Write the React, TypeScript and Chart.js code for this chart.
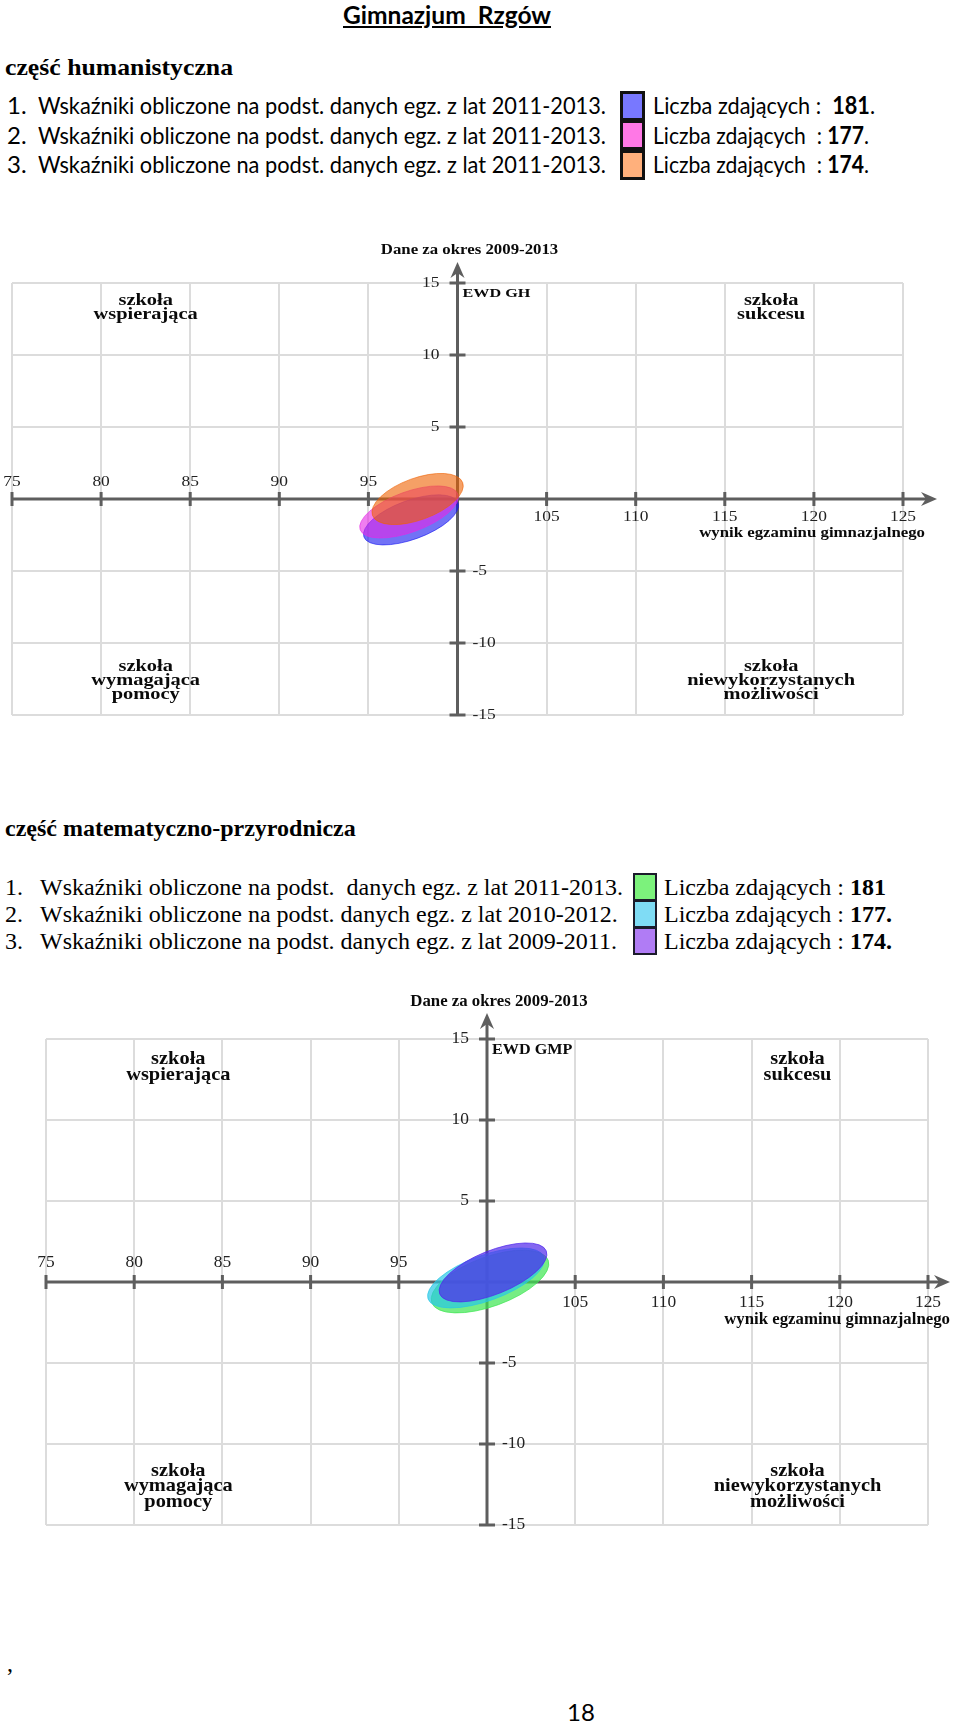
import React, { useEffect, useRef } from 'react';
import { Chart, registerables } from 'chart.js';

Chart.register(...registerables);

// ---------------- data ----------------
const xTickValues = [75, 80, 85, 90, 95, 105, 110, 115, 120, 125];
const yTickValues = [15, 10, 5, -5, -10, -15];

// część humanistyczna (EWD GH) – blue, pink, orange
const ghSeries = ['2011-2013 (181)', '2011-2013 (177)', '2011-2013 (174)'];
const ghCenterX = [97.39, 97.28, 97.76];
const ghCenterY = [-1.45, -0.9, 0.0];
const ghMajorDX = [2.64, 2.74, 2.53];
const ghMajorDY = [1.19, 1.24, 1.14];
const ghMinor = [1.35, 1.4, 1.45];
const ghColors = ['rgba(20,20,240,0.6)', 'rgba(230,40,230,0.6)', 'rgba(238,97,0,0.6)'];

// część matematyczno-przyrodnicza (EWD GMP) – green, cyan, purple
const gmpSeries = ['2011-2013 (181)', '2010-2012 (177)', '2009-2011 (174)'];
const gmpCenterX = [100.17, 99.94, 100.34];
const gmpCenterY = [0.03, 0.25, 0.59];
const gmpMajorDX = [3.3, 3.28, 3.02];
const gmpMajorDY = [1.31, 1.3, 1.33];
const gmpMinor = [1.52, 1.4, 1.34];
const gmpColors = ['rgba(60,230,80,0.7)', 'rgba(40,200,230,0.7)', 'rgba(80,38,235,0.7)'];

const quadrantLabels = [
  { x: 82.5, y: 13.75, lines: ['szkoła', 'wspierająca'] },
  { x: 117.6, y: 13.75, lines: ['szkoła', 'sukcesu'] },
  { x: 82.5, y: -11.65, lines: ['szkoła', 'wymagająca', 'pomocy'] },
  { x: 117.6, y: -11.65, lines: ['szkoła', 'niewykorzystanych', 'możliwości'] },
];

const SERIF = '"Liberation Serif", "Times New Roman", serif';

function drawText(ctx: any, text: string, x: number, y: number, size: number, bold: boolean, align: string, sx: number, color = '#0a0a0a') {
  ctx.save();
  ctx.translate(x, y);
  ctx.scale(sx, 1);
  ctx.font = `${bold ? 'bold ' : ''}${size}px ${SERIF}`;
  ctx.textAlign = align;
  ctx.textBaseline = 'middle';
  ctx.fillStyle = color;
  ctx.fillText(text, 0, 0);
  ctx.restore();
}

const quadPlugin = {
  id: 'quadPlugin',
  beforeDatasetsDraw(chart: any, _args: any, opts: any) {
    const ctx = chart.ctx;
    const xs = chart.scales.x;
    const ys = chart.scales.y;
    const ax = xs.getPixelForValue(100);
    const ay = ys.getPixelForValue(0);
    ctx.save();
    ctx.strokeStyle = '#5e5e5e';
    ctx.fillStyle = '#5e5e5e';
    ctx.lineWidth = 3;
    // x axis
    const left = xs.getPixelForValue(75);
    const tipX = xs.getPixelForValue(125) + opts.arrowX;
    ctx.beginPath();
    ctx.moveTo(left, ay);
    ctx.lineTo(tipX - 8, ay);
    ctx.stroke();
    ctx.beginPath();
    ctx.moveTo(tipX, ay);
    ctx.lineTo(tipX - 16, ay - 7);
    ctx.lineTo(tipX - 11, ay);
    ctx.lineTo(tipX - 16, ay + 7);
    ctx.closePath();
    ctx.fill();
    // y axis
    const tipY = ys.getPixelForValue(15) - opts.arrowY;
    const bottom = ys.getPixelForValue(-15);
    ctx.beginPath();
    ctx.moveTo(ax, bottom);
    ctx.lineTo(ax, tipY + 8);
    ctx.stroke();
    ctx.beginPath();
    ctx.moveTo(ax, tipY);
    ctx.lineTo(ax - 7, tipY + 16);
    ctx.lineTo(ax, tipY + 11);
    ctx.lineTo(ax + 7, tipY + 16);
    ctx.closePath();
    ctx.fill();
    // tick marks
    xTickValues.forEach((v) => {
      const px = xs.getPixelForValue(v);
      ctx.beginPath();
      ctx.moveTo(px, ay - 7);
      ctx.lineTo(px, ay + 7);
      ctx.stroke();
    });
    yTickValues.forEach((v) => {
      const py = ys.getPixelForValue(v);
      ctx.beginPath();
      ctx.moveTo(ax - 8, py);
      ctx.lineTo(ax + 8, py);
      ctx.stroke();
    });
    ctx.restore();
  },
  afterDatasetsDraw(chart: any, _args: any, opts: any) {
    const ctx = chart.ctx;
    const xs = chart.scales.x;
    const ys = chart.scales.y;
    const k = opts.k;
    const sx = 1.2 / k;
    // ellipses
    chart.data.datasets.forEach((ds: any) => {
      const pt = ds.data[0];
      const p0x = xs.getPixelForValue(pt.x);
      const p0y = ys.getPixelForValue(pt.y);
      const p1x = xs.getPixelForValue(pt.x + ds.majorDX);
      const p1y = ys.getPixelForValue(pt.y + ds.majorDY);
      const a = Math.hypot(p1x - p0x, p1y - p0y);
      const ang = Math.atan2(p1y - p0y, p1x - p0x);
      const b = Math.abs(ys.getPixelForValue(0) - ys.getPixelForValue(ds.minor));
      ctx.save();
      ctx.beginPath();
      ctx.ellipse(p0x, p0y, a, b, ang, 0, Math.PI * 2);
      ctx.fillStyle = ds.fillColor;
      ctx.fill();
      ctx.lineWidth = 1;
      ctx.strokeStyle = ds.fillColor;
      ctx.stroke();
      ctx.restore();
    });
    const ax = xs.getPixelForValue(100);
    const ay = ys.getPixelForValue(0);
    // tick labels
    xTickValues.forEach((v) => {
      const px = xs.getPixelForValue(v);
      const py = v < 100 ? ay - 17 * k : ay + 18 * k;
      drawText(ctx, String(v), px, py, 14.5 * k, false, 'center', sx, '#222');
    });
    yTickValues.forEach((v) => {
      const py = ys.getPixelForValue(v);
      if (v > 0) drawText(ctx, String(v), ax - 18, py, 14.5 * k, false, 'right', sx, '#222');
      else drawText(ctx, String(v), ax + 15, py, 14.5 * k, false, 'left', sx, '#222');
    });
    // titles
    drawText(ctx, opts.title, ax + 12, ys.getPixelForValue(15) - 33 * k, 14 * k, true, 'center', sx);
    drawText(ctx, opts.axisLabel, ax + 5, ys.getPixelForValue(14.3), 13.5 * k, true, 'left', sx);
    drawText(ctx, 'wynik egzaminu gimnazjalnego', xs.getPixelForValue(125) + 22, ay + 34 * k, 14 * k, true, 'right', sx);
    quadrantLabels.forEach((q) => {
      const px = xs.getPixelForValue(q.x);
      const py = ys.getPixelForValue(q.y);
      q.lines.forEach((line, i) => {
        drawText(ctx, line, px, py + i * 14 * k, 17 * k, true, 'center', sx);
      });
    });
  },
};

type EwdProps = {
  top: number;
  height: number;
  pad: { left: number; right: number; top: number; bottom: number };
  series: string[];
  cx: number[];
  cy: number[];
  mdx: number[];
  mdy: number[];
  minor: number[];
  colors: string[];
  k: number;
  arrowX: number;
  arrowY: number;
  axisLabel: string;
};

function EwdChart(p: EwdProps) {
  const ref = useRef<HTMLCanvasElement | null>(null);
  useEffect(() => {
    if (!ref.current) return;
    const datasets = p.series.map((name, i) => ({
      label: name,
      data: [{ x: p.cx[i], y: p.cy[i] }],
      pointRadius: 0,
      pointHoverRadius: 0,
      majorDX: p.mdx[i],
      majorDY: p.mdy[i],
      minor: p.minor[i],
      fillColor: p.colors[i],
    }));
    const chart = new Chart(ref.current, {
      type: 'scatter',
      data: { datasets } as any,
      plugins: [quadPlugin as any],
      options: {
        animation: false,
        responsive: false,
        maintainAspectRatio: false,
        events: [],
        layout: { padding: p.pad },
        plugins: {
          legend: { display: false },
          tooltip: { enabled: false },
          quadPlugin: { k: p.k, arrowX: p.arrowX, arrowY: p.arrowY, title: 'Dane za okres 2009-2013', axisLabel: p.axisLabel },
        } as any,
        scales: {
          x: {
            type: 'linear',
            min: 75,
            max: 125,
            ticks: { display: false, stepSize: 5 },
            grid: { color: '#dcdcdc', lineWidth: 2, drawTicks: false },
            border: { display: false },
          },
          y: {
            type: 'linear',
            min: -15,
            max: 15,
            ticks: { display: false, stepSize: 5 },
            grid: { color: '#dcdcdc', lineWidth: 2, drawTicks: false },
            border: { display: false },
          },
        },
      },
    });
    return () => chart.destroy();
  }, []);
  return (
    <div style={{ position: 'absolute', left: 0, top: p.top, width: 960, height: p.height }}>
      <canvas ref={ref} width={960} height={p.height} style={{ width: 960, height: p.height, display: 'block' }} />
    </div>
  );
}

// ---------------- text helpers ----------------
let measureCtx: any = null;
function measure(font: string, text: string) {
  if (!measureCtx) measureCtx = document.createElement('canvas').getContext('2d');
  measureCtx.font = font;
  return measureCtx.measureText(text).width;
}

type Seg = [string, boolean];
function Txt(props: { x: number; y: number; size: number; family: string; segs: Seg[]; width?: number; underline?: boolean; bold?: boolean }) {
  const { x, y, size, family, segs, width, underline, bold } = props;
  let natural = 0;
  segs.forEach(([t, b]) => {
    natural += measure(`${b || bold ? 'bold ' : ''}${size}px ${family}`, t);
  });
  const scale = width ? width / natural : 1;
  const lh = Math.round(size * 1.3);
  return (
    <div
      style={{
        position: 'absolute',
        left: x,
        top: y - lh / 2,
        height: lh,
        lineHeight: `${lh}px`,
        fontSize: size,
        fontFamily: family,
        fontWeight: bold ? 'bold' : 'normal',
        whiteSpace: 'pre',
        color: '#000',
        transform: `scaleX(${scale})`,
        transformOrigin: '0 50%',
        textDecoration: underline ? 'underline' : 'none',
      }}
    >
      {segs.map(([t, b], i) => (
        <span key={i} style={{ fontWeight: b || bold ? 'bold' : 'normal' }}>
          {t}
        </span>
      ))}
    </div>
  );
}

function Sq(props: { x: number; y: number; w: number; h: number; color: string; border: number; borderColor: string }) {
  return (
    <div
      style={{
        position: 'absolute',
        left: props.x,
        top: props.y,
        width: props.w,
        height: props.h,
        boxSizing: 'border-box',
        background: props.color,
        border: `${props.border}px solid ${props.borderColor}`,
      }}
    />
  );
}

const SANS = 'Lato, "Open Sans", sans-serif';
const ghLegendFill = ['#7878ff', '#ff78e6', '#ffb07c'];
const gmpLegendFill = ['#7cf27c', '#7fdcf5', '#b07cf5'];
const ghCounts = ['181', '177', '174'];
const gmpYears = ['2011-2013', '2010-2012', '2009-2011'];

export default function App() {
  const l1y = [104.5, 134.2, 163.9];
  const l2y = [887, 914, 941];
  return (
    <div style={{ position: 'absolute', left: 0, top: 0, width: 960, height: 1725, background: '#fff', overflow: 'hidden' }}>
      <Txt x={343} y={14} size={24} family={SANS} bold underline segs={[['Gimnazjum  Rzgów', true]]} width={208} />
      <Txt x={5} y={67} size={24} family={SERIF} bold segs={[['część humanistyczna', true]]} width={228} />
      {[0, 1, 2].map((i) => (
        <React.Fragment key={'a' + i}>
          <Txt x={7} y={l1y[i]} size={24} family={SANS} segs={[[`${i + 1}.`, false]]} />
          <Txt x={38} y={l1y[i]} size={24} family={SANS} segs={[['Wskaźniki obliczone na podst. danych egz. z lat 2011-2013.', false]]} width={568} />
          <Sq x={620} y={l1y[i] - 14} w={25} h={30} color={ghLegendFill[i]} border={3} borderColor="#111" />
          <Txt
            x={653}
            y={l1y[i]}
            size={24}
            family={SANS}
            segs={i === 0 ? [['Liczba zdających :  ', false], [ghCounts[i], true], ['.', false]] : [['Liczba zdających  : ', false], [ghCounts[i], true], ['.', false]]}
            width={i === 0 ? 222 : 216}
          />
        </React.Fragment>
      ))}

      <EwdChart
        top={238}
        height={492}
        pad={{ left: 12, right: 57, top: 45, bottom: 15 }}
        series={ghSeries}
        cx={ghCenterX}
        cy={ghCenterY}
        mdx={ghMajorDX}
        mdy={ghMajorDY}
        minor={ghMinor}
        colors={ghColors}
        k={1}
        arrowX={34}
        arrowY={21}
        axisLabel="EWD GH"
      />

      <Txt x={5} y={828} size={24} family={SERIF} bold segs={[['część matematyczno-przyrodnicza', true]]} />
      {[0, 1, 2].map((i) => (
        <React.Fragment key={'b' + i}>
          <Txt x={5} y={l2y[i]} size={24} family={SERIF} segs={[[`${i + 1}.`, false]]} />
          <Txt x={40} y={l2y[i]} size={24} family={SERIF} segs={[[`Wskaźniki obliczone na podst.${i === 0 ? '  ' : ' '}danych egz. z lat ${gmpYears[i]}.`, false]]} />
          <Sq x={633} y={l2y[i] - 14} w={24} h={28} color={gmpLegendFill[i]} border={2} borderColor="#1b1b2b" />
          <Txt x={664} y={l2y[i]} size={24} family={SERIF} segs={[['Liczba zdających : ', false], [i === 0 ? ghCounts[i] : ghCounts[i] + '.', true]]} />
        </React.Fragment>
      ))}

      <EwdChart
        top={985}
        height={555}
        pad={{ left: 46, right: 32, top: 54, bottom: 15 }}
        series={gmpSeries}
        cx={gmpCenterX}
        cy={gmpCenterY}
        mdx={gmpMajorDX}
        mdy={gmpMajorDY}
        minor={gmpMinor}
        colors={gmpColors}
        k={1.125}
        arrowX={22}
        arrowY={26}
        axisLabel="EWD GMP"
      />

      <Txt x={7} y={1663} size={24} family={SERIF} segs={[[',', false]]} />
      <Txt x={567} y={1711} size={24} family={SANS} segs={[['18', false]]} />
    </div>
  );
}
